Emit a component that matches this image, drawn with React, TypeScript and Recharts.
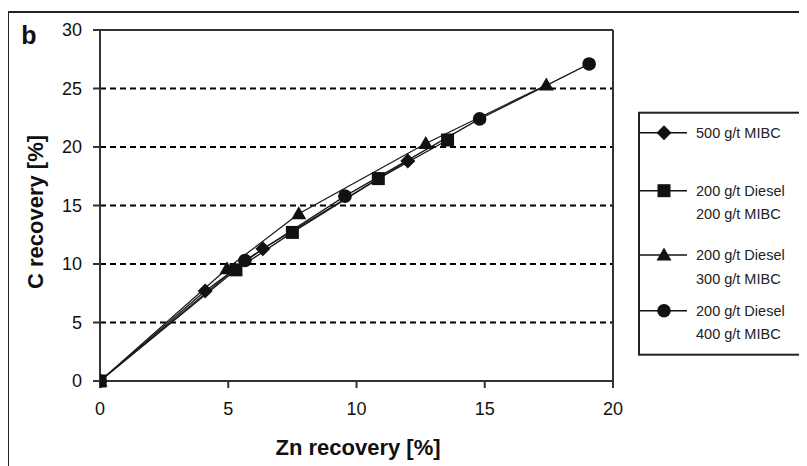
import React from 'react';
import { LineChart, Line, XAxis, YAxis, CartesianGrid, ReferenceLine } from 'recharts';

type Pt = { x: number; y: number };

const xTicks = [0, 5, 10, 15, 20];
const yTicks = [0, 5, 10, 15, 20, 25, 30];

const mibc500: Pt[] = [
  { x: 0, y: 0 },
  { x: 4.1, y: 7.7 },
  { x: 6.35, y: 11.3 },
  { x: 12.0, y: 18.8 },
];
const diesel200mibc200: Pt[] = [
  { x: 0, y: 0 },
  { x: 5.3, y: 9.5 },
  { x: 7.5, y: 12.7 },
  { x: 10.85, y: 17.3 },
  { x: 13.55, y: 20.6 },
];
const diesel200mibc300: Pt[] = [
  { x: 0, y: 0 },
  { x: 4.95, y: 9.6 },
  { x: 7.75, y: 14.3 },
  { x: 12.7, y: 20.3 },
  { x: 17.4, y: 25.3 },
];
const diesel200mibc400: Pt[] = [
  { x: 0, y: 0 },
  { x: 5.65, y: 10.3 },
  { x: 9.55, y: 15.8 },
  { x: 14.8, y: 22.4 },
  { x: 19.07, y: 27.1 },
];

type Shape = 'diamond' | 'square' | 'triangle' | 'circle';

const series: { key: string; data: Pt[]; shape: Shape; label: string[] }[] = [
  { key: 'm500', data: mibc500, shape: 'diamond', label: ['500 g/t MIBC'] },
  { key: 'd200m200', data: diesel200mibc200, shape: 'square', label: ['200 g/t Diesel', '200 g/t MIBC'] },
  { key: 'd200m300', data: diesel200mibc300, shape: 'triangle', label: ['200 g/t Diesel', '300 g/t MIBC'] },
  { key: 'd200m400', data: diesel200mibc400, shape: 'circle', label: ['200 g/t Diesel', '400 g/t MIBC'] },
];

const FONT = '"Liberation Sans", Arial, sans-serif';
const INK = '#111';

const marker = (shape: Shape, cx: number, cy: number, key?: string) => {
  switch (shape) {
    case 'diamond':
      return <polygon key={key} points={`${cx},${cy - 7.5} ${cx + 7.5},${cy} ${cx},${cy + 7.5} ${cx - 7.5},${cy}`} fill={INK} />;
    case 'square':
      return <rect key={key} x={cx - 6.5} y={cy - 6.5} width={13} height={13} fill={INK} />;
    case 'triangle':
      return <polygon key={key} points={`${cx},${cy - 7.5} ${cx + 7.5},${cy + 5.5} ${cx - 7.5},${cy + 5.5}`} fill={INK} />;
    default:
      return <circle key={key} cx={cx} cy={cy} r={6.8} fill={INK} />;
  }
};

const makeDot = (shape: Shape) => (props: any) =>
  marker(shape, props.cx, props.cy, `${shape}-${props.index}`);

const legendRows = [124.7, 182.7, 247, 302.7];

export default function App() {
  return (
    <div style={{ position: 'relative', width: 799, height: 458, fontFamily: FONT }}>
      <LineChart
        width={799}
        height={458}
        margin={{ top: 22, right: 194, left: 32, bottom: 55 }}
      >
        <CartesianGrid vertical={false} stroke="#000" strokeWidth={2} strokeDasharray="6 4" />
        <XAxis
          type="number"
          dataKey="x"
          domain={[0, 20]}
          ticks={xTicks}
          tickSize={7}
          tickMargin={14}
          stroke="#333"
          strokeWidth={2}
          tick={{ fill: INK, fontSize: 18, fontFamily: FONT }}
          height={30}
          allowDataOverflow
        />
        <YAxis
          type="number"
          dataKey="y"
          domain={[0, 30]}
          ticks={yTicks}
          tickSize={7}
          tickMargin={11}
          stroke="#333"
          strokeWidth={2}
          tick={{ fill: INK, fontSize: 18, fontFamily: FONT }}
          width={60}
        />
        <ReferenceLine y={30} stroke="#333" strokeWidth={2} />
        <ReferenceLine x={20} stroke="#333" strokeWidth={2} />
        {series.map((s) => (
          <Line
            key={s.key}
            data={s.data}
            dataKey="y"
            type="linear"
            stroke="#1a1a1a"
            strokeWidth={1.3}
            dot={makeDot(s.shape)}
            activeDot={false}
            isAnimationActive={false}
          />
        ))}
      </LineChart>
      <svg
        width={799}
        height={458}
        style={{ position: 'absolute', left: 0, top: 0, pointerEvents: 'none', overflow: 'visible' }}
      >
        <line x1={0} y1={4} x2={799} y2={4} stroke="#222" strokeWidth={2} />
        <line x1={0} y1={4} x2={0} y2={458} stroke="#222" strokeWidth={2} />
        <text x={21} y={27} fontSize={25} fontWeight="bold" fontFamily={FONT} textAnchor="middle" dominantBaseline="central" fill={INK}>
          b
        </text>
        <text
          x={27}
          y={204}
          fontSize={22}
          fontWeight="bold"
          fontFamily={FONT}
          textAnchor="middle"
          dominantBaseline="central"
          transform="rotate(-90 27 204)"
          fill={INK}
        >
          C recovery [%]
        </text>
        <text x={350} y={439} fontSize={22} fontWeight="bold" fontFamily={FONT} textAnchor="middle" dominantBaseline="central" fill={INK}>
          Zn recovery [%]
        </text>
        <rect x={631} y={104.7} width={161} height={242} fill="#fff" stroke="#222" strokeWidth={2} />
        {series.map((s, i) => {
          const y = legendRows[i];
          return (
            <g key={s.key}>
              <line x1={632} y1={y} x2={679} y2={y} stroke={INK} strokeWidth={1.5} />
              {marker(s.shape, 656, y)}
              {s.label.map((t, j) => (
                <text
                  key={t + j}
                  x={688}
                  y={y + j * 23.5}
                  fontSize={14.5}
                  fontFamily={FONT}
                  dominantBaseline="central"
                  fill="#222"
                >
                  {t}
                </text>
              ))}
            </g>
          );
        })}
      </svg>
    </div>
  );
}
